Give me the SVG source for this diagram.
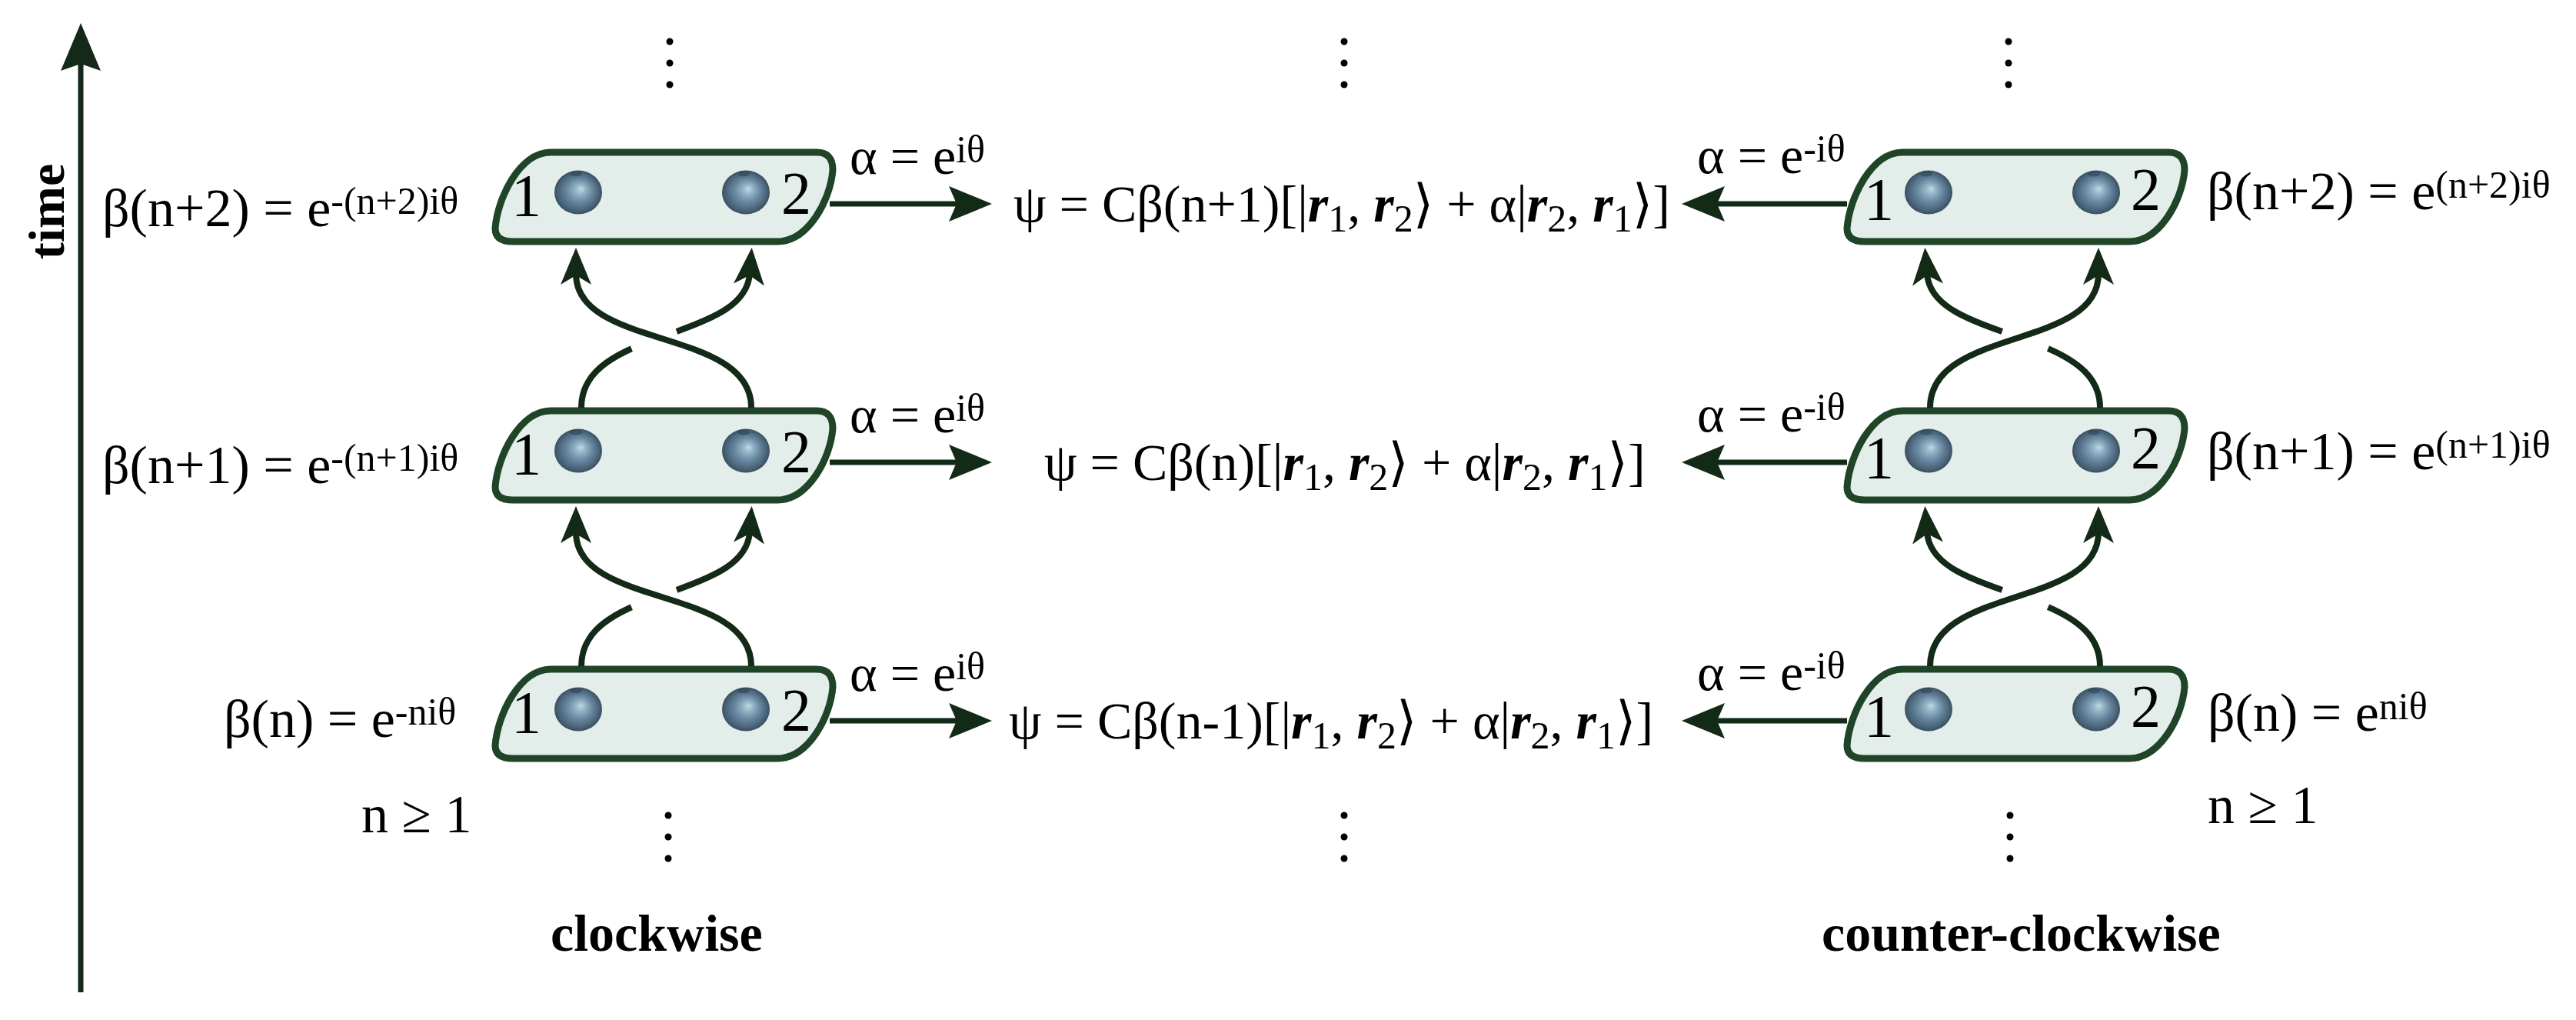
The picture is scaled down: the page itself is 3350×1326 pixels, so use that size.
<svg xmlns="http://www.w3.org/2000/svg" xmlns:xlink="http://www.w3.org/1999/xlink" width="3350" height="1326" viewBox="0 0 3350 1326">
<style>
.t{font-family:"Liberation Serif","DejaVu Serif","DejaVu Sans",serif;fill:#000}
.m{font-size:70px}
.s{font-size:50px}
.f{font-size:68px}
.lab{font-size:78px}
.b{font-weight:bold}
.r{font-weight:bold;font-style:italic}
.pill{fill:#e3eeea;stroke:#1f4428;stroke-width:9;stroke-linejoin:round}
.sph{fill:url(#sph)}
.dim{fill:#2d4457;opacity:0.6}
.con{fill:none;stroke:#132a17;stroke-width:8}
.hor{fill:none;stroke:#132a17;stroke-width:7}
.dot{fill:#000}
</style>
<defs>
<radialGradient id="sph" cx="0.5" cy="0.5" r="0.5" fx="0.56" fy="0.42">
<stop offset="0" stop-color="#c3d8e4"/>
<stop offset="0.2" stop-color="#98b6c9"/>
<stop offset="0.55" stop-color="#66869f"/>
<stop offset="0.85" stop-color="#4a6479"/>
<stop offset="1" stop-color="#3a4f61"/>
</radialGradient>
<path id="pill" d="M716,198 L1062,198 Q1083,198 1083,221 C1080,260 1051,314 1011,314 L667,314 Q644,314 644,297 C647,257 676,198 716,198 Z"/>
<marker id="ab" markerUnits="userSpaceOnUse" viewBox="-50 -25 55 50" markerWidth="55" markerHeight="50" refX="-34" refY="0" orient="auto" style="overflow:visible">
<path d="M0,0 L-48,-20 L-36,0 L-48,20 Z" fill="#132a17"/>
</marker>
<marker id="ah" markerUnits="userSpaceOnUse" viewBox="-60 -25 65 50" markerWidth="65" markerHeight="50" refX="-44" refY="0" orient="auto" style="overflow:visible">
<path d="M0,0 L-56,-23 L-46,0 L-56,23 Z" fill="#132a17"/>
</marker>
<marker id="at" markerUnits="userSpaceOnUse" viewBox="-65 -30 70 60" markerWidth="70" markerHeight="60" refX="-51" refY="0" orient="auto" style="overflow:visible">
<path d="M0,0 L-62,-26 L-53,0 L-62,26 Z" fill="#14291a"/>
</marker>
</defs>
<rect width="3350" height="1326" fill="#fff"/>

<!-- time axis -->
<g id="time-axis">
<path d="M105,1290 L105,81" fill="none" stroke="#14291a" stroke-width="7" marker-end="url(#at)"/>
<text class="t b" font-size="66" text-anchor="middle" transform="translate(83,275) rotate(-90)">time</text>
</g>

<!-- clockwise nodes -->
<g id="cw-n2">
<use xlink:href="#pill" class="pill"/>
<ellipse class="sph" cx="752" cy="250" rx="31" ry="28.5"/><ellipse class="dim" cx="749" cy="226" rx="8" ry="3.5"/>
<ellipse class="sph" cx="970" cy="250" rx="31" ry="28.5"/><ellipse class="dim" cx="967" cy="226" rx="8" ry="3.5"/>
<text class="t lab" x="665" y="280">1</text>
<text class="t lab" x="1016" y="277">2</text>
</g>
<g id="cw-n1" transform="translate(0,336)">
<use xlink:href="#pill" class="pill"/>
<ellipse class="sph" cx="752" cy="250" rx="31" ry="28.5"/><ellipse class="dim" cx="749" cy="226" rx="8" ry="3.5"/>
<ellipse class="sph" cx="970" cy="250" rx="31" ry="28.5"/><ellipse class="dim" cx="967" cy="226" rx="8" ry="3.5"/>
<text class="t lab" x="665" y="280">1</text>
<text class="t lab" x="1016" y="277">2</text>
</g>
<g id="cw-n0" transform="translate(0,672)">
<use xlink:href="#pill" class="pill"/>
<ellipse class="sph" cx="752" cy="250" rx="31" ry="28.5"/><ellipse class="dim" cx="749" cy="226" rx="8" ry="3.5"/>
<ellipse class="sph" cx="970" cy="250" rx="31" ry="28.5"/><ellipse class="dim" cx="967" cy="226" rx="8" ry="3.5"/>
<text class="t lab" x="665" y="280">1</text>
<text class="t lab" x="1016" y="277">2</text>
</g>

<!-- counter-clockwise nodes -->
<g id="ccw-n2" transform="translate(1758,0)">
<use xlink:href="#pill" class="pill"/>
<ellipse class="sph" cx="750" cy="250" rx="31" ry="28.5"/><ellipse class="dim" cx="747" cy="226" rx="8" ry="3.5"/>
<ellipse class="sph" cx="968" cy="250" rx="31" ry="28.5"/><ellipse class="dim" cx="965" cy="226" rx="8" ry="3.5"/>
<text class="t lab" x="666" y="285">1</text>
<text class="t lab" x="1013" y="272">2</text>
</g>
<g id="ccw-n1" transform="translate(1758,336)">
<use xlink:href="#pill" class="pill"/>
<ellipse class="sph" cx="750" cy="250" rx="31" ry="28.5"/><ellipse class="dim" cx="747" cy="226" rx="8" ry="3.5"/>
<ellipse class="sph" cx="968" cy="250" rx="31" ry="28.5"/><ellipse class="dim" cx="965" cy="226" rx="8" ry="3.5"/>
<text class="t lab" x="666" y="285">1</text>
<text class="t lab" x="1013" y="272">2</text>
</g>
<g id="ccw-n0" transform="translate(1758,672)">
<use xlink:href="#pill" class="pill"/>
<ellipse class="sph" cx="750" cy="250" rx="31" ry="28.5"/><ellipse class="dim" cx="747" cy="226" rx="8" ry="3.5"/>
<ellipse class="sph" cx="968" cy="250" rx="31" ry="28.5"/><ellipse class="dim" cx="965" cy="226" rx="8" ry="3.5"/>
<text class="t lab" x="666" y="285">1</text>
<text class="t lab" x="1013" y="272">2</text>
</g>

<!-- connectors -->
<g id="connectors">
<g id="cw-braid-upper">
<path class="con" d="M756,530 C756,425 968,445 975,356" pathLength="100" stroke-dasharray="36 21 100" marker-end="url(#ab)"/>
<path class="con" d="M977,530 C977,425 749,455 749,356" marker-end="url(#ab)"/>
</g>
<g id="cw-braid-lower" transform="translate(0,336)">
<path class="con" d="M756,530 C756,425 968,445 975,356" pathLength="100" stroke-dasharray="36 21 100" marker-end="url(#ab)"/>
<path class="con" d="M977,530 C977,425 749,455 749,356" marker-end="url(#ab)"/>
</g>
<g id="ccw-braid-upper">
<path class="con" d="M2731,530 C2731,425 2513,445 2506,356" pathLength="100" stroke-dasharray="36 21 100" marker-end="url(#ab)"/>
<path class="con" d="M2510,530 C2510,425 2729,455 2729,356" marker-end="url(#ab)"/>
</g>
<g id="ccw-braid-lower" transform="translate(0,336)">
<path class="con" d="M2731,530 C2731,425 2513,445 2506,356" pathLength="100" stroke-dasharray="36 21 100" marker-end="url(#ab)"/>
<path class="con" d="M2510,530 C2510,425 2729,455 2729,356" marker-end="url(#ab)"/>
</g>
<path class="hor" d="M1079,265 L1246,265" marker-end="url(#ah)"/>
<path class="hor" d="M1079,601 L1246,601" marker-end="url(#ah)"/>
<path class="hor" d="M1079,937 L1246,937" marker-end="url(#ah)"/>
<path class="hor" d="M2402,265 L2231,265" marker-end="url(#ah)"/>
<path class="hor" d="M2402,601 L2231,601" marker-end="url(#ah)"/>
<path class="hor" d="M2402,937 L2231,937" marker-end="url(#ah)"/>
</g>

<!-- alpha labels -->
<g id="alpha-labels">
<text class="t f" x="1105" y="226">α = e<tspan class="s" dy="-15">iθ</tspan></text>
<text class="t f" x="1105" y="562">α = e<tspan class="s" dy="-15">iθ</tspan></text>
<text class="t f" x="1105" y="898">α = e<tspan class="s" dy="-15">iθ</tspan></text>
<text class="t f" x="2207" y="225">α = e<tspan class="s" dy="-15">-iθ</tspan></text>
<text class="t f" x="2207" y="561">α = e<tspan class="s" dy="-15">-iθ</tspan></text>
<text class="t f" x="2207" y="897">α = e<tspan class="s" dy="-15">-iθ</tspan></text>
</g>

<!-- beta labels -->
<g id="beta-labels">
<text class="t m" x="133" y="294">β(n+2) = e<tspan class="s" dy="-16">-(n+2)iθ</tspan></text>
<text class="t m" x="133" y="628">β(n+1) = e<tspan class="s" dy="-16">-(n+1)iθ</tspan></text>
<text class="t m" x="291" y="958">β(n) = e<tspan class="s" dy="-16">-niθ</tspan></text>
<text class="t m" x="2870" y="272">β(n+2) = e<tspan class="s" dy="-15">(n+2)iθ</tspan></text>
<text class="t m" x="2870" y="610">β(n+1) = e<tspan class="s" dy="-15">(n+1)iθ</tspan></text>
<text class="t m" x="2871" y="950">β(n) = e<tspan class="s" dy="-15">niθ</tspan></text>
<text class="t m" x="470" y="1082">n ≥ 1</text>
<text class="t m" x="2871" y="1070">n ≥ 1</text>
</g>

<!-- wavefunctions -->
<g id="psi-labels">
<text class="t f" x="1318" y="288">ψ = Cβ(n+1)[|<tspan class="r">r</tspan><tspan class="s" dy="13">1</tspan><tspan dy="-13">, </tspan><tspan class="r">r</tspan><tspan class="s" dy="13">2</tspan><tspan dy="-13">⟩ + α|</tspan><tspan class="r">r</tspan><tspan class="s" dy="13">2</tspan><tspan dy="-13">, </tspan><tspan class="r">r</tspan><tspan class="s" dy="13">1</tspan><tspan dy="-13">⟩]</tspan></text>
<text class="t f" x="1358" y="624">ψ = Cβ(n)[|<tspan class="r">r</tspan><tspan class="s" dy="13">1</tspan><tspan dy="-13">, </tspan><tspan class="r">r</tspan><tspan class="s" dy="13">2</tspan><tspan dy="-13">⟩ + α|</tspan><tspan class="r">r</tspan><tspan class="s" dy="13">2</tspan><tspan dy="-13">, </tspan><tspan class="r">r</tspan><tspan class="s" dy="13">1</tspan><tspan dy="-13">⟩]</tspan></text>
<text class="t f" x="1312" y="960">ψ = Cβ(n-1)[|<tspan class="r">r</tspan><tspan class="s" dy="13">1</tspan><tspan dy="-13">, </tspan><tspan class="r">r</tspan><tspan class="s" dy="13">2</tspan><tspan dy="-13">⟩ + α|</tspan><tspan class="r">r</tspan><tspan class="s" dy="13">2</tspan><tspan dy="-13">, </tspan><tspan class="r">r</tspan><tspan class="s" dy="13">1</tspan><tspan dy="-13">⟩]</tspan></text>
</g>

<!-- ellipsis dots -->
<g id="dots">
<circle class="dot" cx="871" cy="54" r="4.5"/><circle class="dot" cx="871" cy="82" r="4.5"/><circle class="dot" cx="871" cy="110" r="4.5"/>
<circle class="dot" cx="1748" cy="54" r="4.5"/><circle class="dot" cx="1748" cy="82" r="4.5"/><circle class="dot" cx="1748" cy="110" r="4.5"/>
<circle class="dot" cx="2612" cy="54" r="4.5"/><circle class="dot" cx="2612" cy="82" r="4.5"/><circle class="dot" cx="2612" cy="110" r="4.5"/>
<circle class="dot" cx="869" cy="1060" r="4.5"/><circle class="dot" cx="869" cy="1088" r="4.5"/><circle class="dot" cx="869" cy="1116" r="4.5"/>
<circle class="dot" cx="1748" cy="1060" r="4.5"/><circle class="dot" cx="1748" cy="1088" r="4.5"/><circle class="dot" cx="1748" cy="1116" r="4.5"/>
<circle class="dot" cx="2614" cy="1060" r="4.5"/><circle class="dot" cx="2614" cy="1088" r="4.5"/><circle class="dot" cx="2614" cy="1116" r="4.5"/>
</g>

<!-- captions -->
<g id="captions">
<text class="t b" font-size="68" x="716" y="1236">clockwise</text>
<text class="t b" font-size="68" x="2369" y="1236">counter-clockwise</text>
</g>
</svg>
